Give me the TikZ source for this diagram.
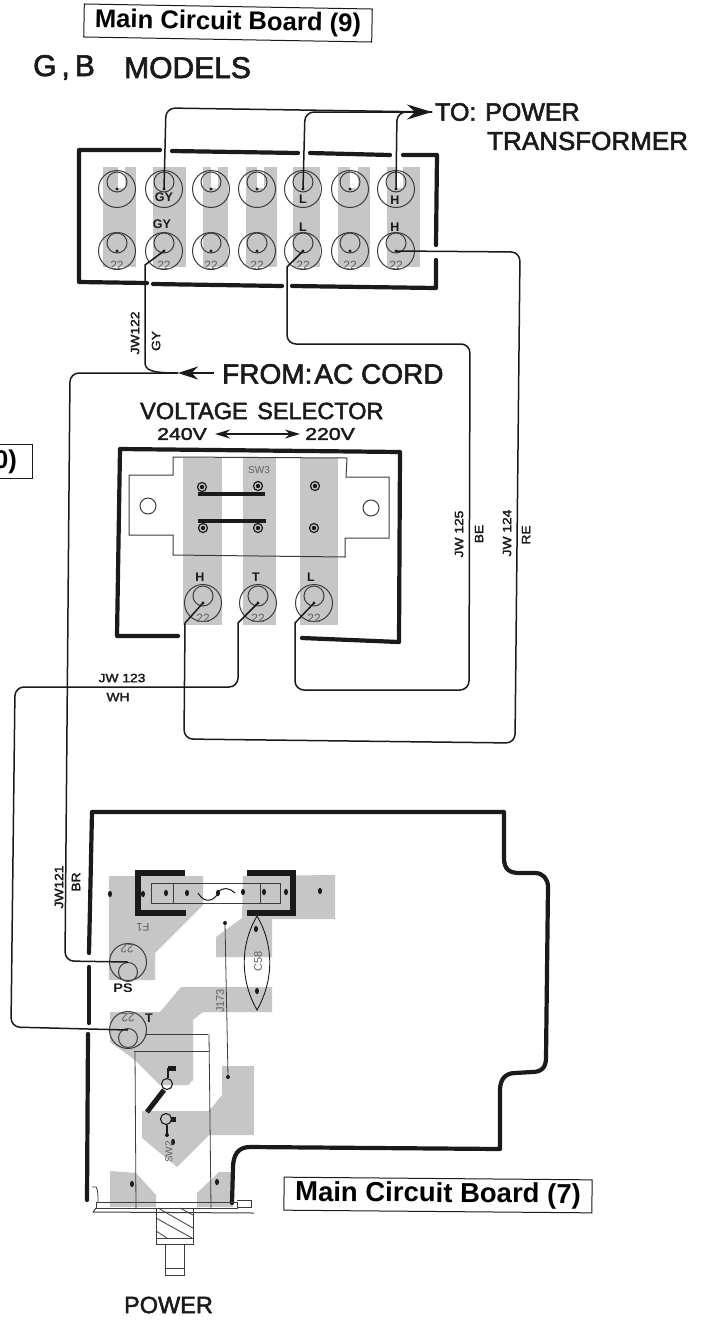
\documentclass[tikz,border=0pt]{standalone}
\usepackage{fontspec}
\setmainfont{Liberation Sans}
\newfontfamily\medf[FakeBold=2.2]{Liberation Sans}
\usetikzlibrary{arrows.meta,calc}
\definecolor{pad}{HTML}{C6C6C6}
\definecolor{ink}{HTML}{1A1A1A}
\tikzset{
  x=1pt,y=-1pt,
  board/.style={draw=ink,line width=4.2pt,line cap=round,line join=round},
  wire/.style={draw=ink,line width=1.5pt,rounded corners=9pt},
  thin line/.style={draw=ink!85,line width=.8pt},
  ring/.style={draw=ink!85,line width=1pt},
  capbox/.style={draw=ink,line width=1pt,inner sep=0pt,minimum height=33pt,font=\bfseries\fontsize{25.6}{26}\selectfont},
  lab/.style={inner sep=0pt,text=ink,font=\medf\fontsize{25}{25}\selectfont},
  tiny/.style={inner sep=0pt,text=ink,font=\bfseries\fontsize{12.5}{13}\selectfont},
  wlab/.style={inner sep=0pt,text=ink,font=\medf\fontsize{12}{12}\selectfont},
  gr/.style={inner sep=0pt,text=ink!70,font=\fontsize{12}{12}\selectfont}
}
\newcommand{\term}[4]{% name x y innerdir
  \draw[ring] (#2,#3) circle (18.5);
  \draw[ring] (#2,#3+#4) circle (10);
  \coordinate (#1) at (#2,#3);
  \fill[ink] (#2,#3) circle (1.7);
}
\newcommand{\wdn}[1]{\scalebox{1.15}[1]{#1}}
\begin{document}
\begin{tikzpicture}
\useasboundingbox (0,0) rectangle (722,1320);
\fill[white] (0,0) rectangle (722,1320);

% ---------- top terminal board
\foreach \a/\b in {103/136,153/186,203/228,246/277,293/320,338/370,387/420}
  \fill[pad] (\a,167) rectangle (\b,267);
\foreach \a/\b in {118/125,211/218,257/264,350/358,397/403}
  \fill[white] (\a,165) rectangle (\b,188);
\draw[board] (160,150) -- (79,150) -- (79,282) -- (147,283);
\draw[board] (172,151) -- (298,153);
\draw[board] (310,153) -- (390,155);
\draw[board] (403,155) -- (437,155) -- (436,245);
\draw[board] (436,260) -- (436,288) -- (292,286);
\draw[board] (282,286) -- (153,284);
\foreach \n/\x in {a/117,b/164,c/211,d/257,e/303,f/350,g/396}{
  \term{\n1}{\x}{189}{-7}
  \term{\n2}{\x}{251}{-8}
  \node[gr] (tw\n) at (\x,265) {22};
}
\node[tiny] (l1) at (164,197) {GY};
\node[tiny] (l2) at (162,224) {GY};
\node[tiny] (l3) at (303,199) {L};
\node[tiny] (l4) at (303,227) {L};
\node[tiny] (l5) at (395,200) {H};
\node[tiny] (l6) at (395,227) {H};

\coordinate (toTip) at (432,112);
\draw[wire] (b1) -- (166,108) -- (300,110) -- (toTip);
\draw[wire] (e1) -- (305,112) -- (toTip);
\draw[wire] (g1) -- (397,112) -- (toTip);
\draw[draw=ink,line width=1.5pt,-{Stealth[length=25pt,width=15pt]}] (385,112) -- (toTip);

% ---------- text
\node[capbox,rotate=-1,minimum width=288pt] (cap9) at (228,23) {Main Circuit Board (9)};
\node[lab,anchor=base west,font=\medf\fontsize{30}{30}\selectfont] (gb) at (33,76) {G\hspace{5pt},\hspace{5pt}B};
\node[lab,anchor=base west,font=\medf\fontsize{30}{30}\selectfont] (md) at (124,78) {MODELS};
\node[lab,anchor=west] (to) at (435,112) {TO:};
\node[lab,anchor=west] (pw2) at (485,112) {POWER};
\node[lab,anchor=west,font=\medf\fontsize{26}{26}\selectfont] (tr) at (487,141) {TRANSFORMER};
\node[lab,anchor=west,font=\medf\fontsize{28}{28}\selectfont] (fr) at (222,374) {FROM:\hspace{2pt}AC CORD};
\node[lab,anchor=west,font=\medf\fontsize{23.5}{24}\selectfont] (vs) at (140,411) {VOLTAGE\hspace{3pt} SELECTOR};
\node[lab,anchor=west,font=\medf\fontsize{17}{17}\selectfont] (v240) at (157,434) {\scalebox{1.25}[1]{240V}};
\node[lab,anchor=west,font=\medf\fontsize{17}{17}\selectfont] (v220) at (305,434) {\scalebox{1.25}[1]{220V}};
\draw[draw=ink,line width=1.5pt,{Stealth[length=15pt,width=9pt]}-{Stealth[length=15pt,width=9pt]}] ($(v240.east)+(8,0)$) coordinate (va) -- ($(v220.west)+(-5,0)$) coordinate (vb);
\node[draw=ink,line width=1pt,minimum height=34pt,minimum width=60pt,inner sep=0pt] (cap0) at (2,461) {};
\node[inner sep=0pt,font=\bfseries\fontsize{25.6}{26}\selectfont,anchor=east] (cap0t) at (17,462) {0)};
\node[capbox,rotate=-.5,minimum width=308pt,font=\bfseries\fontsize{27.5}{28}\selectfont] (cap7) at (438,1195) {Main Circuit Board (7)};
\node[lab,font=\medf\fontsize{23.5}{24}\selectfont] (pw) at (168.5,1305) {POWER};

% ---------- voltage selector
\foreach \a/\b in {183/222,243/276,300/338}
  \fill[pad] (\a,458) rectangle (\b,625);
\draw[board] (178,636) -- (117,636) -- (120,449) -- (400,452) -- (399,642) -- (302,638);
\draw[thin line,line width=1pt] (173,457) -- (347,458) -- (346,477) -- (389,477) -- (389,538) -- (345,538) -- (345,557) -- (173,555) -- (173,535) -- (129,535) -- (129,475) -- (173,475) -- cycle;
\draw[ring] (148,506) circle (8);
\draw[ring] (371,508) circle (8);
\foreach \x/\y in {202/487,258/486,315/486,203/528,258/528,314/528}{
  \draw[ink,line width=1.2pt] (\x,\y) circle (4.5);
  \fill[ink] (\x,\y) circle (2.2);
}
\draw[ink,line width=3.5pt] (198,494) -- (265,494);
\draw[ink,line width=3.5pt] (198,521) -- (266,521);
\node[gr,font=\fontsize{10}{10}\selectfont] (sw3) at (259,470) {SW3};
\node[tiny] (lh) at (200,577) {H};
\node[tiny] (lt) at (256,577) {T};
\node[tiny] (ll) at (311,577) {L};
\term{sh}{203}{603}{-7}
\term{st}{258}{603}{-7}
\term{sl}{314}{603}{-7}
\node[gr] (s1) at (203,618) {22};
\node[gr] (s2) at (258,618) {22};
\node[gr] (s3) at (314,618) {22};

% ---------- main board pads
\fill[pad] (109,876) -- (203,876) -- (203,905) -- (155,953) -- (155,980) -- (109,980) -- cycle;
\fill[pad] (243,876) -- (335,875) -- (335,919) -- (272,919) -- (272,957) -- (216,957) -- (216,937) -- (242,918) -- cycle;
\fill[pad] (181,987) -- (272,987) -- (272,1012) -- (203,1012) -- (193,1020) -- (193,1080) -- (188,1085) -- (160,1085) -- (135,1060) -- (110,1042) -- (110,1012) -- (160,1012) -- cycle;
\fill[pad] (222,1066) -- (254,1066) -- (254,1135) -- (209,1135) -- (177,1167) -- (142,1138) -- (142,1111) -- (209,1111) -- (222,1095) -- cycle;
\fill[pad] (110,1171) -- (136,1173) -- (156,1195) -- (156,1207) -- (110,1207) -- cycle;
\fill[pad] (197,1193) -- (219,1172) -- (233,1172) -- (233,1207) -- (197,1207) -- cycle;

% ---------- main board outline
\draw[board] (89,953) -- (92,812) -- (504,812) -- (504,858) .. controls (504,870) and (510,873) .. (520,873) -- (535,873) .. controls (543,873) and (548,879) .. (548,887) -- (546,1058) .. controls (546,1068) and (541,1072) .. (532,1072) -- (515,1073) .. controls (505,1073) and (500,1080) .. (500,1090) -- (500,1149) -- (250,1147) .. controls (238,1147) and (233,1155) .. (233,1168) -- (232,1203);
\draw[board] (89,967) -- (89,1023);
\draw[board] (88,1034) -- (87,1200);

% ---------- fuse
\draw[ink,line width=6pt,line join=miter] (185,873) -- (138,873) -- (138,913) -- (186,913);
\draw[ink,line width=6pt,line join=miter] (247,873) -- (293,873) -- (293,913) -- (247,913);
\draw[thin line] (151,883) rectangle (280,903);
\draw[thin line] (173,883) -- (173,903);
\draw[thin line] (260,883) -- (260,903);
\draw[ink,line width=1pt] (198,893) .. controls (205,905) and (215,900) .. (218,893) .. controls (222,886) and (230,888) .. (235,893);
\foreach \x/\y in {110/894,143/894,166/893,187/893,218/893,243/892,264/892,286/892,320/891,256/929,257/991,132/1184,217/1182,173/1142}
  \fill[ink] (\x,\y) ellipse (2 and 3.2);
\node[gr,rotate=180,font=\fontsize{11}{11}\selectfont] (f1) at (143,927) {F1};
% C58
\draw[ink,line width=.9pt] (257,916) .. controls (240,945) and (240,980) .. (257,1010) .. controls (274,980) and (274,945) .. (257,916);
\node[gr,rotate=90,font=\fontsize{11}{11}\selectfont] (c58) at (258,961) {C58};
% J173
\coordinate (ja) at (225,923);
\coordinate (jb) at (228,1077);
\draw[thin line] (ja) -- (jb);
\fill[ink] (ja) circle (2); \fill[ink] (jb) circle (2);
\node[gr,rotate=90,font=\fontsize{11}{11}\selectfont] (j173) at (220,1001) {J173};
% terminals
\draw[ring] (128,962) circle (18.5);
\draw[ring] (128,972) circle (9.5);
\coordinate (ps) at (128,962);
\node[gr,rotate=180] (p22) at (127,949) {22};
\node[tiny] (pslab) at (123,988) {\wdn{PS}};
\draw[thin line] (145,1034) -- (208,1034);
\draw[thin line] (134,1051) -- (209,1051);
\draw[thin line] (135,1051) -- (136,1208);
\draw[thin line] (209,1034) -- (211,1208);
\draw[ring] (128,1030) circle (18.5);
\draw[ring] (128,1038) circle (9.5);
\coordinate (mt) at (128,1030);
\node[gr,rotate=180] (t22) at (128,1018) {22};
\node[tiny] (tlab) at (149,1018) {T};
% SW2
\draw[ink,line width=1.1pt] (167,1084) circle (5.5);
\draw[ink,line width=1.2pt] (168,1078) -- (168,1068);
\fill[ink] (168,1066) rectangle (176,1071);
\draw[ink,line width=5pt] (164,1090) -- (147,1112);
\draw[ink,line width=1.1pt] (166,1119) circle (5.5);
\fill[ink] (171,1117) rectangle (176,1122);
\draw[ink,line width=1.2pt] (167,1125) -- (167,1135);
\fill[ink] (167,1135) circle (2);
\node[gr,rotate=90,font=\fontsize{10}{10}\selectfont] (sw2) at (169,1152) {SW2};
% base
\draw[thin line,line width=1pt] (96,1202) rectangle (237,1208);
\draw[thin line,line width=1pt] (93,1212) -- (254,1213);
\draw[thin line,line width=1pt] (93,1212) -- (96,1208);
\draw[thin line] (237,1200) -- (251,1200) -- (251,1207) -- (237,1207);
\draw[thin line] (92,1187) -- (96,1187) .. controls (98,1190) and (98,1195) .. (98,1202);
\draw[thin line] (156,1208) rectangle (193,1244);
\draw[thin line] (156,1238) -- (193,1238);
\draw[thin line] (165,1244) rectangle (184,1275);
\draw[thin line] (165,1268) -- (184,1268);
\draw[thin line] (158,1208) -- (193,1228);
\draw[thin line] (180,1208) -- (193,1215);
\draw[thin line] (156,1218) -- (192,1238);
\draw[thin line] (156,1231) -- (167,1238);

% ---------- wires
\coordinate (fromTip) at (178,373);
\coordinate (fromTail) at (214,373);
\draw[wire] (b2) [sharp corners] -- (145,265) -- (145,362) .. controls (145,370) and (150,373) .. (fromTip);
\draw[draw=ink,line width=1.5pt,-{Stealth[length=20pt,width=13pt]}] (fromTail) -- (fromTip);
\draw[wire] (fromTip) -- (70,373) -- (65,961) -- (ps);
\draw[wire] (e2) [sharp corners] -- (287,267) [rounded corners=9pt] -- (287,344) -- (470,344) -- (469,690) -- (295,690) [sharp corners] -- (295,623) -- (sl);
\draw[wire] (g2) -- (520,252) -- (515,743) -- (184,739) [sharp corners] -- (185,623) -- (sh);
\draw[wire] (st) [sharp corners] -- (238,623) [rounded corners=9pt] -- (238,687) -- (15,687) -- (11,1027) -- (mt);

% ---------- wire labels
\node[wlab,rotate=90] (jw122) at (135,333) {\wdn{JW122}};
\node[wlab,rotate=90] (gy) at (156,341) {\wdn{GY}};
\node[wlab] (jw123) at (122,678) {\wdn{JW 123}};
\node[wlab] (wh) at (118,697) {\wdn{WH}};
\node[wlab,rotate=90] (jw125) at (459,534) {\wdn{JW 125}};
\node[wlab,rotate=90] (be) at (479,534) {\wdn{BE}};
\node[wlab,rotate=90] (jw124) at (507,533) {\wdn{JW 124}};
\node[wlab,rotate=90] (re) at (526,535) {\wdn{RE}};
\node[wlab,rotate=90] (jw121) at (59,887) {\wdn{JW121}};
\node[wlab,rotate=90] (br) at (76,882) {\wdn{BR}};
\end{tikzpicture}
\end{document}
